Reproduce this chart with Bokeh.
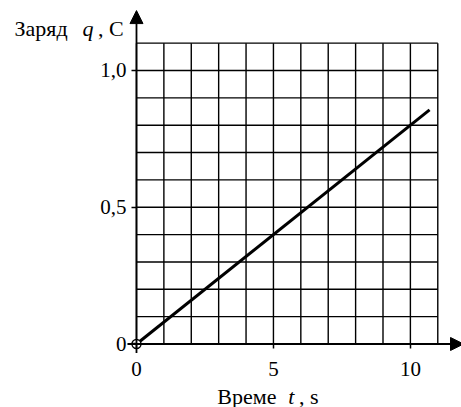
from bokeh.plotting import figure
from bokeh.models import Range1d, FixedTicker, Arrow, NormalHead, Label
from bokeh.embed import file_html
from bokeh.resources import INLINE

# data
t_vals = [0.0, 10.7]          # time, s
q_vals = [0.0, 0.856]         # charge, C
grid_t = [0, 1, 2, 3, 4, 5, 6, 7, 8, 9, 10, 11]
grid_q = [0.0, 0.1, 0.2, 0.3, 0.4, 0.5, 0.6, 0.7, 0.8, 0.9, 1.0, 1.1]
x_ticks = [0, 5, 10]
y_ticks = [0, 0.5, 1.0]
y_tick_labels = ["0", "0,5", "1,0"]
x_tick_labels = ["0", "5", "10"]

FONT = "Liberation Serif"

p = figure(width=461, height=407,
           x_range=Range1d(-4.965, 11.866), y_range=Range1d(-0.2322, 1.2559),
           output_backend="svg", toolbar_location=None,
           min_border_left=0, min_border_right=0, min_border_top=0, min_border_bottom=0)
p.grid.visible = False
p.outline_line_color = None
p.background_fill_color = "white"
p.border_fill_color = "white"

# grid
p.segment(x0=grid_t, y0=grid_q[0], x1=grid_t, y1=grid_q[-1], line_color="black", line_width=1.4)
p.segment(x0=grid_t[0], y0=grid_q, x1=grid_t[-1], y1=grid_q, line_color="black", line_width=1.4)

# axes with arrows
p.add_layout(Arrow(x_start=-0.33, y_start=0, x_end=11.94, y_end=0, line_width=1.8, line_color="black",
                   end=NormalHead(size=13, fill_color="black", line_color="black", line_width=1)))
p.add_layout(Arrow(x_start=0, y_start=-0.033, x_end=0, y_end=1.219, line_width=1.8, line_color="black",
                   end=NormalHead(size=13, fill_color="black", line_color="black", line_width=1)))

# data line
p.line(t_vals, q_vals, line_color="black", line_width=3)
p.scatter(t_vals[:1], q_vals[:1], size=9, fill_color="white", line_color="black", line_width=1.4)

for ax in (p.xaxis[0], p.yaxis[0]):
    ax.fixed_location = 0
    ax.axis_line_color = None
    ax.major_tick_in = 0
    ax.major_tick_out = 5
    ax.major_tick_line_width = 1.5
    ax.major_tick_line_color = "black"
    ax.minor_tick_line_color = None
    ax.major_label_text_font = FONT
    ax.major_label_text_font_size = "21px"
    ax.major_label_text_color = "black"

p.xaxis[0].ticker = FixedTicker(ticks=x_ticks)
p.yaxis[0].ticker = FixedTicker(ticks=y_ticks)
p.xaxis[0].major_label_overrides = {k: v for k, v in zip(x_ticks, x_tick_labels)}
p.yaxis[0].major_label_overrides = {k: v for k, v in zip(y_ticks, y_tick_labels)}
p.xaxis[0].major_label_standoff = 13
p.yaxis[0].major_label_standoff = 5

TS = "22px"
YT = 1.1536
XT = -0.1920
# y title
p.add_layout(Label(x=-4.454, y=YT, text="Заряд", text_font=FONT, text_font_size=TS,
                   text_align="left", text_baseline="alphabetic", text_color="black"))
p.add_layout(Label(x=-1.971, y=YT, text="q", text_font=FONT, text_font_size=TS,
                   text_font_style="italic", text_align="left", text_baseline="alphabetic", text_color="black"))
p.add_layout(Label(x=-0.464, y=YT, text=", C", text_font=FONT, text_font_size=TS,
                   text_align="right", text_baseline="alphabetic", text_color="black"))
# x title
p.add_layout(Label(x=2.95, y=XT, text="Време", text_font=FONT, text_font_size=TS,
                   text_align="left", text_baseline="alphabetic", text_color="black"))
p.add_layout(Label(x=5.539, y=XT, text="t", text_font=FONT, text_font_size=TS,
                   text_font_style="italic", text_align="left", text_baseline="alphabetic", text_color="black"))
p.add_layout(Label(x=6.645, y=XT, text=", s", text_font=FONT, text_font_size=TS,
                   text_align="right", text_baseline="alphabetic", text_color="black"))

open("out.html", "w").write(file_html(p, INLINE))
